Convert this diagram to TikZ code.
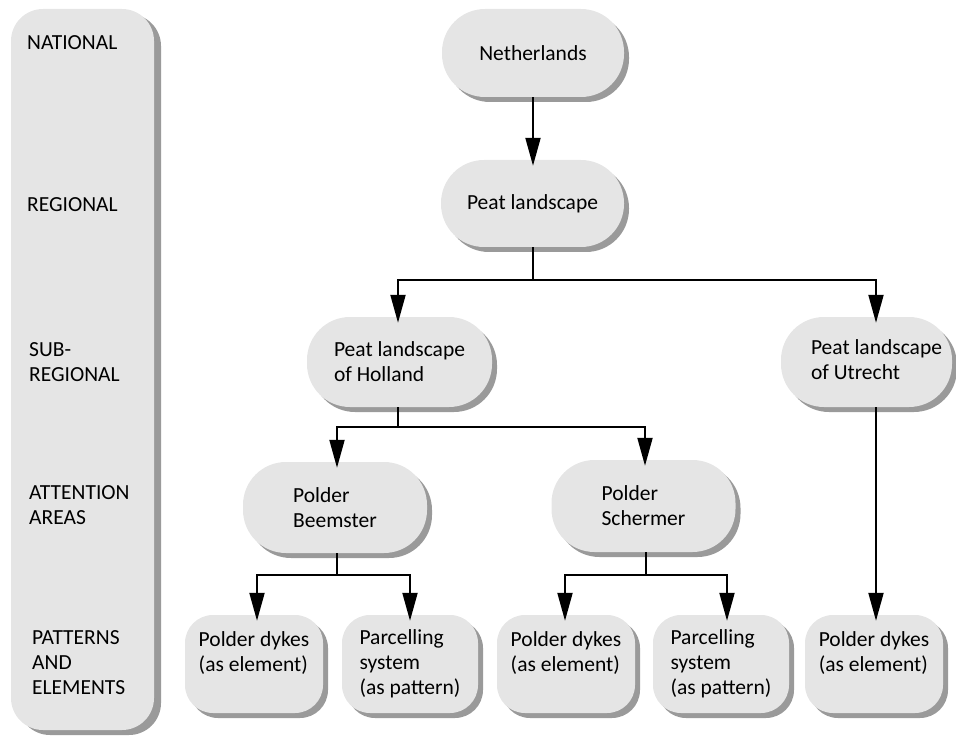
\documentclass[tikz,border=0pt]{standalone}
\usepackage{fontspec}
\setmainfont{Carlito}
\usetikzlibrary{arrows.meta,shadows}
\definecolor{boxgray}{HTML}{E5E5E5}
\definecolor{shadegray}{HTML}{9A9A9A}
\begin{document}
\begin{tikzpicture}[x=1pt,y=-1pt,
  font=\fontsize{21.5}{25}\selectfont,
  boxbase/.style={fill=boxgray, draw=none, align=left, inner sep=0pt},
  box/.style={boxbase,
    drop shadow={shadow xshift=5pt, shadow yshift=-5pt, fill=shadegray, opacity=1}},
  pill/.style={box, rounded corners=43pt, minimum height=88pt},
  leaf/.style={box, rounded corners=28pt, minimum width=138pt, minimum height=98pt},
  levelbar/.style={boxbase, rounded corners=32pt,
    drop shadow={shadow xshift=7pt, shadow yshift=-5pt, fill=shadegray, opacity=1}},
  link/.style={line width=2pt},
  arr/.style={link, -{Triangle[length=28pt,width=15pt]}, shorten >=-6pt},
  level/.style={anchor=north west, inner sep=0pt, align=left}
]
\useasboundingbox (0,0) rectangle (956,738);

% scale of levels on the left
\node[levelbar, minimum width=143pt, minimum height=721pt] (levels) at (82.5,369.5) {};
\node[level] (national) at (27,35) {NATIONAL};
\node[level] (regional) at (27,197) {REGIONAL};
\node[level] (subregional) at (29,342) {SUB-\\REGIONAL};
\node[level] (attention) at (29,485) {ATTENTION\\AREAS};
\node[level] (patterns) at (32,630) {PATTERNS\\AND\\ELEMENTS};

% hierarchy of landscapes
\node[pill, minimum width=182pt] (neth) at (533,53) {Netherlands};
\node[pill, minimum width=183pt, minimum height=87pt] (peat) at (532.5,203.5) {Peat landscape};
\node[pill, minimum width=185pt, minimum height=90pt] (holl) at (399.5,362) {Peat landscape\\of Holland};
\node[pill, minimum width=171pt, minimum height=90pt] (utr) at (866.5,362)
  {\begin{tabular}{@{\hspace{20pt}}l@{}}Peat landscape\\of Utrecht\end{tabular}};
\node[pill, minimum width=184pt, minimum height=91pt] (beem) at (335,507.5) {Polder\\Beemster};
\node[pill, minimum width=184pt, minimum height=92pt] (scher) at (643.5,506) {Polder\\Schermer};

% patterns and elements
\node[leaf] (pd1) at (254,664) {Polder dykes\\(as element)\\\mbox{}};
\node[leaf, minimum width=136pt] (pc1) at (410,664) {Parcelling\\system\\(as pattern)};
\node[leaf] (pd2) at (566,664) {Polder dykes\\(as element)\\\mbox{}};
\node[leaf, minimum width=136pt] (pc2) at (721,664) {Parcelling\\system\\(as pattern)};
\node[leaf] (pd3) at (874,664) {Polder dykes\\(as element)\\\mbox{}};

% connectors
\draw[arr] (neth.south) -- (neth.south |- peat.north);

\draw[link] (peat.south) -- ++(0,33) coordinate (fork1);
\draw[arr] (fork1) -| ([xshift=-1.5pt]holl.north);
\draw[arr] (fork1) -| ([xshift=9.5pt]utr.north);

\draw[link] ([xshift=-1.5pt]holl.south) -- ++(0,20) coordinate (fork2);
\draw[arr] (fork2) -| ([xshift=2pt]beem.north);
\draw[arr] (fork2) -| ([xshift=1.5pt]scher.north);

\draw[link] ([xshift=2pt]beem.south) -- ++(0,22) coordinate (fork3);
\draw[arr] (fork3) -| ([xshift=3pt]pd1.north);
\draw[arr] (fork3) -| (pc1.north);

\draw[link] ([xshift=2pt]scher.south) -- ++(0,23) coordinate (fork4);
\draw[arr] (fork4) -| ([xshift=-1pt]pd2.north);
\draw[arr] (fork4) -| ([xshift=6pt]pc2.north);

\draw[arr] ([xshift=9.5pt]utr.south) -- ([xshift=9.5pt]utr.south |- pd3.north);
\end{tikzpicture}
\end{document}
